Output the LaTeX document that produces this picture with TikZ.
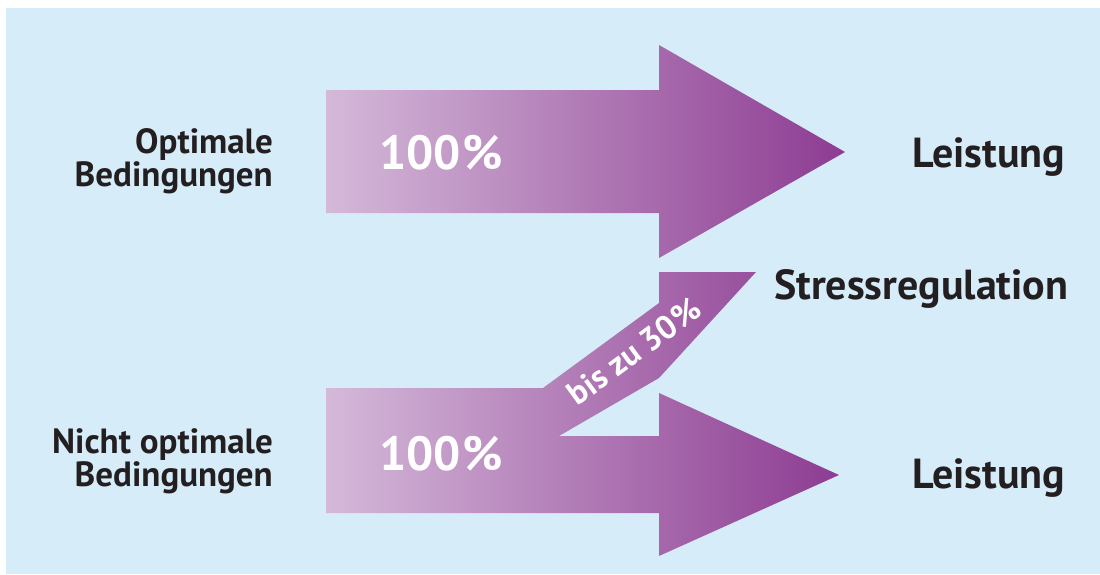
\documentclass[tikz,border=0pt]{standalone}
\usepackage{fontspec}
\setmainfont{PT Sans}
\definecolor{bgblue}{RGB}{214,236,249}
\definecolor{lilacL}{RGB}{212,185,217}
\definecolor{purpleR}{RGB}{141,60,146}
\definecolor{ink}{RGB}{35,31,32}
\begin{document}
\begin{tikzpicture}[x=1pt,y=-1pt,
  lbl/.style={font=\bfseries\fontsize{35}{33}\selectfont, text=ink, inner sep=0pt, align=right},
  big/.style={font=\bfseries\fontsize{42}{42}\selectfont, text=ink, inner sep=0pt},
  pct/.style={font=\bfseries\fontsize{48}{48}\selectfont, text=white, inner sep=0pt},
  slant/.style={font=\bfseries\fontsize{33}{33}\selectfont, text=white, inner sep=0pt},
  arrowfill/.style={left color=lilacL, right color=purpleR, draw=none}]
\useasboundingbox (0,0) rectangle (1100,574);
\fill[bgblue] (6,8) rectangle (1100,574);
\shade[arrowfill] (326,90) -- (659,90) -- (659,45) -- (845,152) -- (659,258) -- (659,213) -- (326,213) -- cycle;
\shade[arrowfill] (326,388) -- (543,388) -- (659,303) -- (659,272) -- (756,272) -- (659,378) -- (559,436) -- (659,436) -- (659,393) -- (839,475) -- (659,556) -- (659,513) -- (326,513) -- cycle;
\node[lbl, anchor=base east] (opt) at (273,186) {Optimale\\Bedingungen};
\node[lbl, anchor=base east] (nopt) at (273,486) {Nicht optimale\\Bedingungen};
\node[pct, anchor=base west] (p1) at (379,169) {100\kern2pt\%};
\node[pct, anchor=base west] (p2) at (379,470) {100\kern2pt\%};
\node[slant, rotate=36.2] (p3) at (634,351) {bis zu 30\kern1pt\%};
\node[big, anchor=base west] (l1) at (912,167) {Leistung};
\node[big, anchor=base west] (sr) at (774,299) {Stressregulation};
\node[big, anchor=base west] (l2) at (912,488) {Leistung};
\end{tikzpicture}
\end{document}
